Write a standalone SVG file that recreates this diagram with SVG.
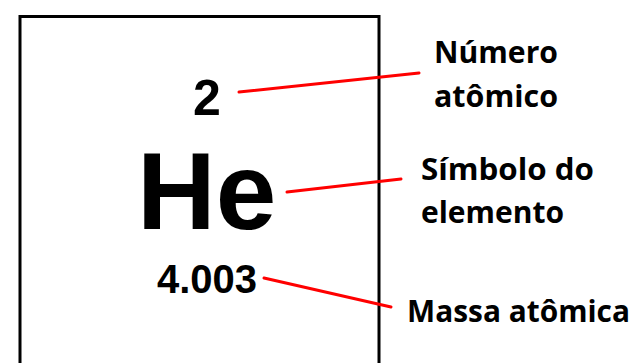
<svg xmlns="http://www.w3.org/2000/svg" width="631" height="363" viewBox="0 0 631 363">
<style>
.num{font-family:"Liberation Sans",Arial,sans-serif;font-weight:bold;fill:#000}
.lbl{font-family:"Open Sans","Noto Sans",sans-serif;font-weight:bold;fill:#000;font-size:30px}
.conn{stroke:#ff0000;stroke-width:3;stroke-linecap:round;fill:none}
</style>
<rect width="631" height="363" fill="#fff"/>
<g id="element-box">
<rect x="20" y="16.5" width="359" height="400" fill="none" stroke="#000" stroke-width="3"/>
<text class="num" x="207" y="115" font-size="50" text-anchor="middle">2</text>
<text class="num" x="137" y="229" font-size="109">He</text>
<text class="num" x="207" y="293" font-size="40" text-anchor="middle">4.003</text>
</g>
<g id="connectors">
<line class="conn" x1="239" y1="92" x2="419" y2="73"/>
<line class="conn" x1="287" y1="192" x2="401" y2="179"/>
<line class="conn" x1="264" y1="278" x2="391" y2="307"/>
</g>
<g id="label-numero">
<text class="lbl" x="434" y="63" textLength="124" lengthAdjust="spacingAndGlyphs">Número</text>
<text class="lbl" x="434" y="107" textLength="124" lengthAdjust="spacingAndGlyphs">atômico</text>
</g>
<g id="label-simbolo">
<text class="lbl" x="421" y="180" textLength="173" lengthAdjust="spacingAndGlyphs">Símbolo do</text>
<text class="lbl" x="421" y="223" textLength="143" lengthAdjust="spacingAndGlyphs">elemento</text>
</g>
<g id="label-massa">
<text class="lbl" x="407" y="322" textLength="223" lengthAdjust="spacingAndGlyphs">Massa atômica</text>
</g>
</svg>
